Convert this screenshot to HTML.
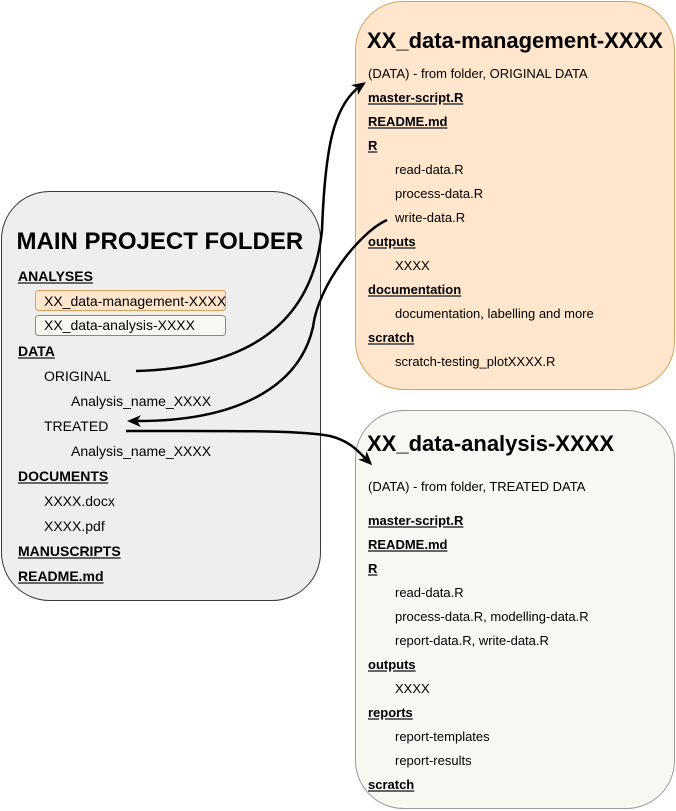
<!DOCTYPE html>
<html>
<head>
<meta charset="utf-8">
<style>
  html, body { margin:0; padding:0; background:#fff; }
  body { width:676px; height:811px; position:relative; overflow:hidden;
         font-family:"Liberation Sans", Arial, sans-serif; color:#000; }
  svg { position:absolute; left:0; top:0; }
  .t { position:absolute; white-space:nowrap; height:20px; line-height:20px; }
  .m { font-size:14px; }
  .r { font-size:13px; }
  .h { font-weight:bold; text-decoration:underline; text-decoration-color:#666;
       text-decoration-thickness:2px; text-underline-offset:1px; }
  .title { position:absolute; white-space:nowrap; font-weight:bold; height:28px; line-height:28px; }
</style>
</head>
<body>
<svg width="676" height="811" viewBox="0 0 676 811">
  <defs>
    <marker id="ah" markerUnits="userSpaceOnUse" viewBox="0 0 14 12" refX="8" refY="6"
            markerWidth="14" markerHeight="12" orient="auto">
      <path d="M0,0 L14,6 L0,12 L4,6 Z" fill="#000"/>
    </marker>
  </defs>
  <!-- boxes -->
  <rect x="1.5" y="191.5" width="319" height="409" rx="48" ry="48" fill="#eeeeee" stroke="#36393d" stroke-width="1"/>
  <rect x="355.5" y="1.5" width="319" height="388" rx="48" ry="48" fill="#ffe6cc" stroke="#d9a25e" stroke-width="1"/>
  <rect x="355.5" y="410.5" width="319" height="398" rx="48" ry="48" fill="#f9f7f1" stroke="#9a9a9a" stroke-width="1"/>
  <!-- small boxes -->
  <rect x="35.5" y="290.5" width="190" height="20" rx="3" ry="3" fill="#ffe6cc" stroke="#d9a25e" stroke-width="1"/>
  <rect x="35.5" y="315.5" width="190" height="20" rx="3" ry="3" fill="#f9f7f1" stroke="#888" stroke-width="1"/>
  <!-- arrows -->
  <path d="M136,371 C240,368 312,330 322,230 C325,150 333,105 361,85.5" fill="none" stroke="#000" stroke-width="2.5" marker-end="url(#ah)"/>
  <path d="M387,220 C360,232 318,285 313,327 C300,385 240,422 133,421" fill="none" stroke="#000" stroke-width="2.5" marker-end="url(#ah)"/>
  <path d="M126,431 C230,431 300,430 330,436 C350,441 358,451 368,461" fill="none" stroke="#000" stroke-width="2.5" marker-end="url(#ah)"/>
</svg>

<!-- MAIN PROJECT FOLDER -->
<div class="title" style="left:16.5px; top:227.5px; font-size:24px;">MAIN PROJECT FOLDER</div>
<div class="t m h" style="left:18px; top:266px;">ANALYSES</div>
<div class="t m" style="left:36px; top:290.5px; width:190px; overflow:hidden; padding-left:8px; box-sizing:border-box;">XX_data-management-XXXX</div>
<div class="t m" style="left:44px; top:315px;">XX_data-analysis-XXXX</div>
<div class="t m h" style="left:18px; top:341px;">DATA</div>
<div class="t m" style="left:44px; top:366px;">ORIGINAL</div>
<div class="t m" style="left:71px; top:391px;">Analysis_name_XXXX</div>
<div class="t m" style="left:44px; top:416px;">TREATED</div>
<div class="t m" style="left:71px; top:441px;">Analysis_name_XXXX</div>
<div class="t m h" style="left:18px; top:466px;">DOCUMENTS</div>
<div class="t m" style="left:44px; top:491px;">XXXX.docx</div>
<div class="t m" style="left:44px; top:516px;">XXXX.pdf</div>
<div class="t m h" style="left:18px; top:541px;">MANUSCRIPTS</div>
<div class="t m h" style="left:18px; top:566px;">README.md</div>

<!-- XX_data-management-XXXX -->
<div class="title" style="left:367px; top:26.5px; font-size:22px;">XX_data-management-XXXX</div>
<div class="t r" style="left:368px; top:63.5px;">(DATA) - from folder, ORIGINAL DATA</div>
<div class="t r h" style="left:368px; top:87.5px;">master-script.R</div>
<div class="t r h" style="left:368px; top:111.5px;">README.md</div>
<div class="t r h" style="left:368px; top:135.5px;">R</div>
<div class="t r" style="left:395px; top:159.5px;">read-data.R</div>
<div class="t r" style="left:395px; top:183.5px;">process-data.R</div>
<div class="t r" style="left:395px; top:207.5px;">write-data.R</div>
<div class="t r h" style="left:368px; top:231.5px;">outputs</div>
<div class="t r" style="left:395px; top:255.5px;">XXXX</div>
<div class="t r h" style="left:368px; top:279.5px;">documentation</div>
<div class="t r" style="left:395px; top:303.5px;">documentation, labelling and more</div>
<div class="t r h" style="left:368px; top:327.5px;">scratch</div>
<div class="t r" style="left:395px; top:351.5px;">scratch-testing_plotXXXX.R</div>

<!-- XX_data-analysis-XXXX -->
<div class="title" style="left:367px; top:429.5px; font-size:22px;">XX_data-analysis-XXXX</div>
<div class="t r" style="left:368px; top:477px;">(DATA) - from folder, TREATED DATA</div>
<div class="t r h" style="left:368px; top:511px;">master-script.R</div>
<div class="t r h" style="left:368px; top:535px;">README.md</div>
<div class="t r h" style="left:368px; top:558.5px;">R</div>
<div class="t r" style="left:395px; top:582.5px;">read-data.R</div>
<div class="t r" style="left:395px; top:606.5px;">process-data.R, modelling-data.R</div>
<div class="t r" style="left:395px; top:630.5px;">report-data.R, write-data.R</div>
<div class="t r h" style="left:368px; top:654.5px;">outputs</div>
<div class="t r" style="left:395px; top:678.5px;">XXXX</div>
<div class="t r h" style="left:368px; top:702.5px;">reports</div>
<div class="t r" style="left:395px; top:726.5px;">report-templates</div>
<div class="t r" style="left:395px; top:750.5px;">report-results</div>
<div class="t r h" style="left:368px; top:774.5px;">scratch</div>
</body>
</html>
